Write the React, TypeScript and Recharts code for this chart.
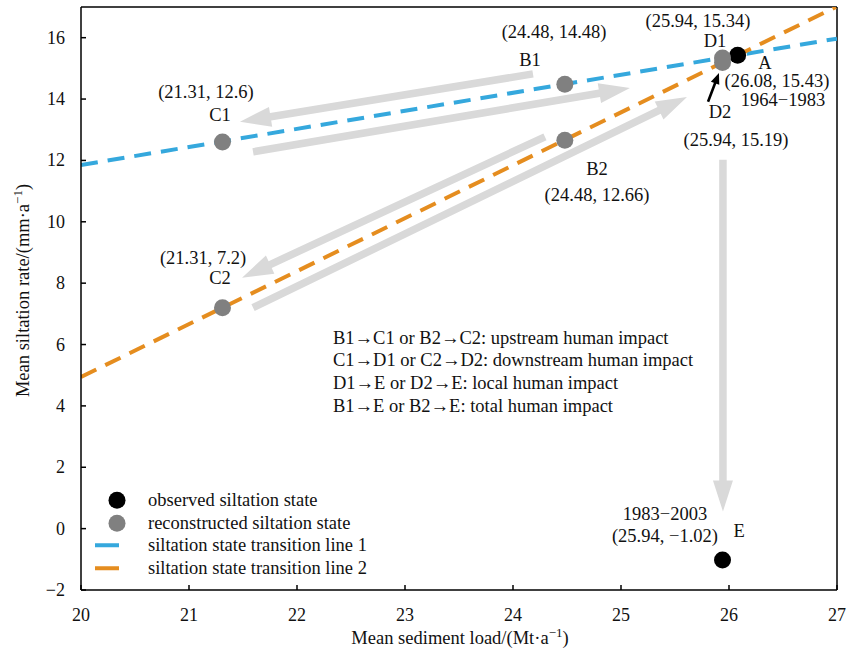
import React from 'react';
import {
  ComposedChart,
  XAxis,
  YAxis,
  Line,
  Scatter,
  ReferenceLine,
  ReferenceDot,
  Legend,
  Label,
} from 'recharts';

const FONT = '"Liberation Serif", "Times New Roman", serif';
const FS = 18.5;
const BLUE = '#35a8dd';
const ORANGE = '#e58d1f';
const GRAY_PT = '#808080';
const ARROW_GRAY = '#d9d9d9';

// ---- data ----
const xTicks = [20, 21, 22, 23, 24, 25, 26, 27];
const yTicks = [-2, 0, 2, 4, 6, 8, 10, 12, 14, 16];

const observedStates = [
  { x: 26.08, y: 15.43 }, // A
  { x: 25.94, y: -1.02 }, // E
];
const reconstructedStates = [
  { x: 24.48, y: 14.48 }, // B1
  { x: 24.48, y: 12.66 }, // B2
  { x: 21.31, y: 12.6 }, // C1
  { x: 21.31, y: 7.2 }, // C2
  { x: 25.94, y: 15.34 }, // D1
  { x: 25.94, y: 15.19 }, // D2
];
const transitionLine1 = [
  { x: 20, y: 11.85 },
  { x: 27, y: 15.97 },
];
const transitionLine2 = [
  { x: 20, y: 4.94 },
  { x: 26.99, y: 17 },
];

// transition arrows (data space)
const transitionArrows = [
  { from: [24.185, 14.82], to: [21.472, 13.26] }, // B1 -> C1
  { from: [21.593, 12.28], to: [25.083, 14.36] }, // C1 -> D1
  { from: [24.296, 12.77], to: [21.491, 8.18] }, // B2 -> C2
  { from: [21.593, 7.2], to: [25.611, 14.07] }, // C2 -> D2
  { from: [25.944, 12.02], to: [25.944, 0.56] }, // D -> E
];
const pointerArrow = { from: [25.806, 13.91], to: [25.907, 14.85] };

const pointLabels = [
  { x: 21.157, y: 14.233, text: '(21.31, 12.6)' },
  { x: 21.287, y: 13.484, text: 'C1' },
  { x: 24.38, y: 16.186, text: '(24.48, 14.48)' },
  { x: 24.157, y: 15.275, text: 'B1' },
  { x: 25.713, y: 16.544, text: '(25.94, 15.34)' },
  { x: 25.87, y: 15.893, text: 'D1' },
  { x: 26.333, y: 15.177, text: 'A' },
  { x: 26.444, y: 14.591, text: '(26.08, 15.43)' },
  { x: 26.5, y: 13.973, text: '1964\u22121983' },
  { x: 25.917, y: 13.582, text: 'D2' },
  { x: 26.065, y: 12.67, text: '(25.94, 15.19)' },
  { x: 24.778, y: 11.727, text: 'B2' },
  { x: 24.778, y: 10.88, text: '(24.48, 12.66)' },
  { x: 21.13, y: 8.829, text: '(21.31, 7.2)' },
  { x: 21.287, y: 8.178, text: 'C2' },
  { x: 25.407, y: 0.464, text: '1983\u22122003' },
  { x: 25.407, y: -0.253, text: '(25.94, \u22121.02)' },
  { x: 26.093, y: -0.09, text: 'E' },
];

const noteAnchor = { x: 22.333, y: 6.225 };
const noteLines = [
  'B1\u2192C1 or B2\u2192C2: upstream human impact',
  'C1\u2192D1 or C2\u2192D2: downstream human impact',
  'D1\u2192E or D2\u2192E: local human impact',
  'B1\u2192E or B2\u2192E: total human impact',
];

const legendItems = [
  { label: 'observed siltation state', kind: 'dot', color: '#000' },
  { label: 'reconstructed siltation state', kind: 'dot', color: GRAY_PT },
  { label: 'siltation state transition line 1', kind: 'dash', color: BLUE },
  { label: 'siltation state transition line 2', kind: 'dash', color: ORANGE },
];

// ---- helpers ----
const fmt = (v: number) => (v < 0 ? '\u2212' + Math.abs(v) : String(v));

function ArrowShape(props: any) {
  const { x1, y1, x2, y2, color, shaft, headLen, headHalf } = props;
  const X1 = Number(x1), Y1 = Number(y1), X2 = Number(x2), Y2 = Number(y2);
  const dx = X2 - X1;
  const dy = Y2 - Y1;
  const len = Math.hypot(dx, dy) || 1;
  const ux = dx / len;
  const uy = dy / len;
  const nx = -uy;
  const ny = ux;
  const bx = X2 - ux * headLen;
  const by = Y2 - uy * headLen;
  const s = shaft / 2;
  const pts = [
    [X1 + nx * s, Y1 + ny * s],
    [bx + nx * s, by + ny * s],
    [bx + nx * headHalf, by + ny * headHalf],
    [X2, Y2],
    [bx - nx * headHalf, by - ny * headHalf],
    [bx - nx * s, by - ny * s],
    [X1 - nx * s, Y1 - ny * s],
  ]
    .map((p) => p[0].toFixed(2) + ',' + p[1].toFixed(2))
    .join(' ');
  return <polygon points={pts} fill={color} stroke="none" />;
}

const XTick = (props: any) => {
  const { x, y, payload } = props;
  return (
    <g>
      <line x1={x} x2={x} y1={y} y2={y - 5} stroke="#000" strokeWidth={1.5} />
      <text
        x={x}
        y={y + 25}
        textAnchor="middle"
        dominantBaseline="central"
        fontFamily={FONT}
        fontSize={18}
        fill="#111"
      >
        {fmt(payload.value)}
      </text>
    </g>
  );
};

const YTick = (props: any) => {
  const { x, y, payload } = props;
  return (
    <g>
      <line x1={x} x2={x + 5} y1={y} y2={y} stroke="#000" strokeWidth={1.5} />
      <text
        x={x - 16}
        y={y}
        textAnchor="end"
        dominantBaseline="central"
        fontFamily={FONT}
        fontSize={18}
        fill="#111"
      >
        {fmt(payload.value)}
      </text>
    </g>
  );
};

const LegendContent = () => (
  <div style={{ fontFamily: FONT, fontSize: FS, color: '#111' }}>
    {legendItems.map((it) => (
      <div key={it.label} style={{ display: 'flex', alignItems: 'center', height: 22.5 }}>
        <svg width={60} height={22.5} style={{ flex: 'none' }}>
          {it.kind === 'dot' ? (
            <circle cx={29} cy={11.25} r={8.5} fill={it.color} />
          ) : (
            <rect x={7} y={9.25} width={24} height={4} fill={it.color} />
          )}
        </svg>
        <span style={{ whiteSpace: 'nowrap', lineHeight: '22.5px' }}>{it.label}</span>
      </div>
    ))}
  </div>
);

const dotShape = (color: string) => (p: any) => (
  <circle cx={p.cx} cy={p.cy} r={8.5} fill={color} />
);

export default function App() {
  return (
    <div style={{ position: 'absolute', left: 0, top: 0, background: '#fff' }}>
      <ComposedChart
        width={847}
        height={653}
        margin={{ top: 7, right: 10, bottom: 23, left: 21 }}
      >
        <XAxis
          type="number"
          dataKey="x"
          domain={[20, 27]}
          ticks={xTicks}
          interval={0}
          allowDataOverflow
          height={40}
          tickLine={false}
          tickSize={0}
          tickMargin={0}
          tick={<XTick />}
          axisLine={{ stroke: '#000', strokeWidth: 1.5 }}
        >
          <Label
            content={() => (
              <text
                x={460}
                y={638}
                textAnchor="middle"
                dominantBaseline="central"
                fontFamily={FONT}
                fontSize={FS}
                fill="#111"
              >
                Mean sediment load/(Mt·a
                <tspan dy={-6} fontSize={13}>
                  {'\u22121'}
                </tspan>
                <tspan dy={6}>)</tspan>
              </text>
            )}
          />
        </XAxis>
        <YAxis
          type="number"
          dataKey="y"
          domain={[-2, 17]}
          ticks={yTicks}
          interval={0}
          allowDataOverflow
          width={60}
          tickLine={false}
          tickSize={0}
          tickMargin={0}
          tick={<YTick />}
          axisLine={{ stroke: '#000', strokeWidth: 1.5 }}
        >
          <Label
            content={(props: any) => {
              const vb = props && props.viewBox;
              const cy = vb && typeof vb.y === 'number' ? vb.y + vb.height / 2 - 8 : 290;
              const cx = 23;
              return (
                <text
                  transform={`rotate(-90, ${cx}, ${cy})`}
                  x={cx}
                  y={cy}
                  textAnchor="middle"
                  dominantBaseline="central"
                  fontFamily={FONT}
                  fontSize={FS}
                  fill="#111"
                >
                  Mean siltation rate/(mm·a
                  <tspan dy={-6} fontSize={13}>
                    {'\u22121'}
                  </tspan>
                  <tspan dy={6}>)</tspan>
                </text>
              );
            }}
          />
        </YAxis>

        {/* frame */}
        <ReferenceLine y={17} stroke="#000" strokeWidth={1.5} />
        <ReferenceLine x={27} stroke="#000" strokeWidth={1.5} />

        {/* transition arrows */}
        {transitionArrows.map((a, i) => (
          <ReferenceLine
            key={'arr' + i}
            zIndex={50}
            segment={[
              { x: a.from[0], y: a.from[1] },
              { x: a.to[0], y: a.to[1] },
            ]}
            shape={(p: any) => (
              <ArrowShape {...p} color={ARROW_GRAY} shaft={7.5} headLen={31} headHalf={10} />
            )}
          />
        ))}

        <Line
          data={transitionLine1}
          dataKey="y"
          type="linear"
          stroke={BLUE}
          strokeWidth={4}
          strokeDasharray="17 10"
          dot={false}
          activeDot={false}
          isAnimationActive={false}
          legendType="none"
        />
        <Line
          data={transitionLine2}
          dataKey="y"
          type="linear"
          stroke={ORANGE}
          strokeWidth={4}
          strokeDasharray="17 10"
          dot={false}
          activeDot={false}
          isAnimationActive={false}
          legendType="none"
        />

        <Scatter
          data={observedStates}
          dataKey="y"
          shape={dotShape('#000')}
          isAnimationActive={false}
        />
        <Scatter
          data={reconstructedStates}
          dataKey="y"
          shape={dotShape(GRAY_PT)}
          isAnimationActive={false}
        />

        <ReferenceLine
          zIndex={700}
          segment={[
            { x: pointerArrow.from[0], y: pointerArrow.from[1] },
            { x: pointerArrow.to[0], y: pointerArrow.to[1] },
          ]}
          shape={(p: any) => (
            <ArrowShape {...p} color="#000" shaft={2.6} headLen={11} headHalf={4.5} />
          )}
        />

        {pointLabels.map((l, i) => (
          <ReferenceDot
            key={'lab' + i}
            x={l.x}
            y={l.y}
            r={1}
            zIndex={2100}
            shape={(p: any) => (
              <text
                x={p.cx}
                y={p.cy}
                textAnchor="middle"
                dominantBaseline="central"
                fontFamily={FONT}
                fontSize={FS}
                fill="#111"
              >
                {l.text}
              </text>
            )}
          />
        ))}

        <ReferenceDot
          x={noteAnchor.x}
          y={noteAnchor.y}
          r={1}
          zIndex={2100}
          shape={(p: any) => (
            <text
              x={p.cx}
              y={p.cy}
              textAnchor="start"
              dominantBaseline="central"
              fontFamily={FONT}
              fontSize={FS}
              fill="#111"
            >
              {noteLines.map((t, i) => (
                <tspan key={i} x={p.cx} dy={i === 0 ? 0 : 22.7}>
                  {t}
                </tspan>
              ))}
            </text>
          )}
        />

        <Legend
          layout="vertical"
          align="center"
          verticalAlign="middle"
          content={<LegendContent />}
          wrapperStyle={{ left: 88, top: 489, width: 340, height: 92 }}
        />
      </ComposedChart>
    </div>
  );
}
